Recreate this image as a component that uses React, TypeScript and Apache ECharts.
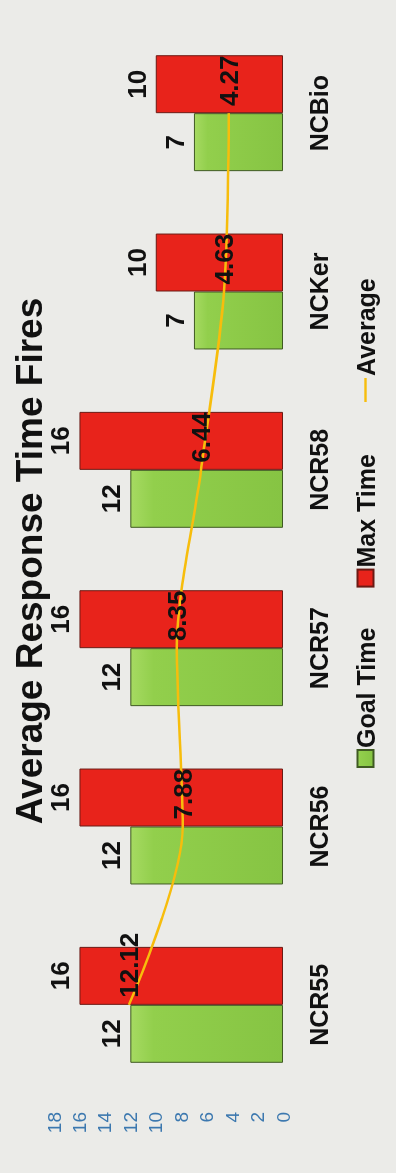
import React, { useEffect, useRef } from "react";
import * as echarts from "echarts";

// Response-time data per station
const categories = ["NCR55", "NCR56", "NCR57", "NCR58", "NCKer", "NCBio"];
const goalTime = [12, 12, 12, 12, 7, 7];
const maxTime = [16, 16, 16, 16, 10, 10];
const average = [12.12, 7.88, 8.35, 6.44, 4.63, 4.27];

// Value axis range
const axisMin = 0;
const axisMax = 18;
const axisStep = 2;

const CHART_W = 1173;
const CHART_H = 396;
const FONT = "'Liberation Sans', Arial, sans-serif";
const AVG_COLOR = "#f7bd0c";

const legendText = {
  color: "#111",
  fontSize: 25,
  fontWeight: "bold",
  fontFamily: FONT,
  padding: [0, 0, 0, -3],
};

export default function App() {
  const ref = useRef<HTMLDivElement>(null);

  useEffect(() => {
    if (!ref.current) return;
    const chart = echarts.init(ref.current, null, { renderer: "svg" });

    const barLabel = {
      show: true,
      position: "top",
      distance: 6,
      color: "#111",
      fontSize: 26,
      fontWeight: "bold",
      fontFamily: FONT,
    };

    chart.setOption({
      animation: false,
      backgroundColor: "#ebebe8",
      title: {
        text: "Average Response Time Fires",
        left: 607,
        top: 6,
        textAlign: "center",
        textStyle: {
          color: "#111",
          fontSize: 37,
          fontWeight: "bold",
          fontFamily: FONT,
        },
      },
      legend: [
        {
          left: 405,
          top: 353,
          padding: 0,
          itemGap: 40,
          itemWidth: 17,
          itemHeight: 16,
          textStyle: legendText,
          data: [
            { name: "Goal Time", icon: "rect" },
            { name: "Max Time", icon: "rect" },
          ],
        },
        {
          left: 771,
          top: 353,
          padding: 0,
          itemWidth: 24,
          itemHeight: 16,
          textStyle: legendText,
          data: [
            // short horizontal stroke for the line series
            { name: "Average", icon: "path://M0,0 M24,16 M0,6.8 L24,6.8 L24,9.2 L0,9.2 Z" },
          ],
        },
      ],
      grid: {
        left: 79,
        right: 24,
        top: 54,
        bottom: 113,
        outerBoundsMode: "none",
      },
      xAxis: {
        type: "category",
        data: categories,
        axisLine: { show: false },
        axisTick: { show: false },
        axisLabel: {
          color: "#111",
          fontSize: 25,
          fontWeight: "bold",
          fontFamily: FONT,
          margin: 23,
        },
      },
      yAxis: {
        type: "value",
        min: axisMin,
        max: axisMax,
        interval: axisStep,
        axisLine: { show: false },
        axisTick: { show: false },
        splitLine: { show: false },
        axisLabel: {
          color: "#3c78af",
          fontSize: 19,
          fontFamily: FONT,
          margin: 18,
        },
      },
      series: [
        {
          name: "Goal Time",
          type: "bar",
          data: goalTime,
          barGap: "0%",
          barCategoryGap: "35%",
          itemStyle: {
            color: new echarts.graphic.LinearGradient(0, 0, 0, 1, [
              { offset: 0, color: "#a6da62" },
              { offset: 0.15, color: "#92cf4c" },
              { offset: 1, color: "#86c443" },
            ]),
            borderColor: "#3f5a22",
            borderWidth: 1,
          },
          label: barLabel,
        },
        {
          name: "Max Time",
          type: "bar",
          data: maxTime,
          barGap: "0%",
          barCategoryGap: "35%",
          itemStyle: {
            color: "#e8231b",
            borderColor: "#6b1a14",
            borderWidth: 1,
          },
          label: barLabel,
        },
        {
          name: "Average",
          type: "line",
          data: average,
          smooth: 0.3,
          symbol: "circle",
          symbolSize: 0.1,
          showSymbol: true,
          lineStyle: { color: AVG_COLOR, width: 2.5 },
          itemStyle: { color: AVG_COLOR },
          z: 5,
          label: {
            show: true,
            position: "right",
            distance: 7,
            color: "#111",
            fontSize: 26,
            fontWeight: "bold",
            fontFamily: FONT,
          },
        },
      ],
    });

    return () => chart.dispose();
  }, []);

  return (
    <div
      ref={ref}
      style={{
        position: "fixed",
        left: 0,
        top: 0,
        width: CHART_W,
        height: CHART_H,
        transformOrigin: "0 0",
        transform: `translate(0px, ${CHART_W}px) rotate(-90deg)`,
      }}
    />
  );
}
